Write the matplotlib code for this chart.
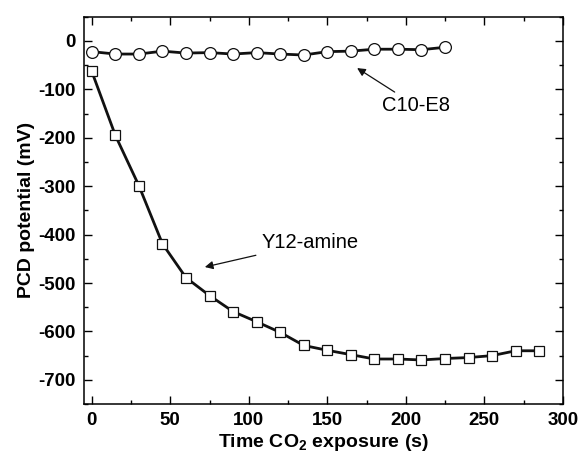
import matplotlib.pyplot as plt
from matplotlib.ticker import MultipleLocator

plt.rcParams['font.family'] = ['Liberation Sans', 'DejaVu Sans']
plt.rcParams['mathtext.fontset'] = 'custom'
plt.rcParams['mathtext.bf'] = 'Liberation Sans:bold'
plt.rcParams['mathtext.rm'] = 'Liberation Sans:bold'
plt.rcParams['axes.unicode_minus'] = False

# PCD potential over CO2 exposure time
time_c10 = [0, 15, 30, 45, 60, 75, 90, 105, 120, 135, 150, 165, 180, 195, 210, 225]
pcd_c10 = [-22, -27, -27, -21, -25, -24, -27, -24, -27, -29, -22, -21, -17, -17, -18, -13]

time_y12 = [0, 15, 30, 45, 60, 75, 90, 105, 120, 135, 150, 165, 180, 195, 210,
            225, 240, 255, 270, 285]
pcd_y12 = [-63, -195, -299, -419, -489, -526, -559, -580, -602, -629, -639, -648,
           -657, -657, -659, -656, -654, -650, -640, -640]

fig = plt.figure(figsize=(5.79, 4.66), dpi=100)
ax = fig.add_axes([0.145, 0.133, 0.827, 0.831])

ax.plot(time_c10, pcd_c10, '-o', color='#111111', lw=2.0, ms=8.5,
        mfc='white', mec='#111111', mew=0.9)
ax.plot(time_y12, pcd_y12, '-s', color='#111111', lw=2.0, ms=7.5,
        mfc='white', mec='#111111', mew=0.9)

ax.annotate('C10-E8', xy=(169, -56), xytext=(185, -134), fontsize=14.5,
            va='center', ha='left',
            arrowprops=dict(arrowstyle='-|>', color='#111111', lw=0.9,
                            mutation_scale=12, shrinkA=2, shrinkB=0))
ax.annotate('Y12-amine', xy=(72, -467), xytext=(108, -417), fontsize=14.5,
            va='center', ha='left',
            arrowprops=dict(arrowstyle='-|>', color='#111111', lw=0.9,
                            mutation_scale=12, shrinkA=2, shrinkB=0))

ax.set_xlim(-5, 300)
ax.set_ylim(-750, 50)
ax.xaxis.set_major_locator(MultipleLocator(50))
ax.xaxis.set_minor_locator(MultipleLocator(25))
ax.yaxis.set_major_locator(MultipleLocator(100))
ax.yaxis.set_minor_locator(MultipleLocator(50))
ax.tick_params(which='both', direction='in', top=True, right=True, width=1.0)
ax.tick_params(which='major', length=6, labelsize=13.5, pad=6)
ax.tick_params(which='minor', length=3)
for lab in ax.get_xticklabels() + ax.get_yticklabels():
    lab.set_fontweight('bold')
for sp in ax.spines.values():
    sp.set_linewidth(1.1)

ax.set_xlabel(r'Time CO$_\mathbf{2}$ exposure (s)', fontsize=14, fontweight='bold',
              labelpad=2)
ax.set_ylabel('PCD potential (mV)', fontsize=14, fontweight='bold', labelpad=2)

fig.savefig('out.png', dpi=100)
